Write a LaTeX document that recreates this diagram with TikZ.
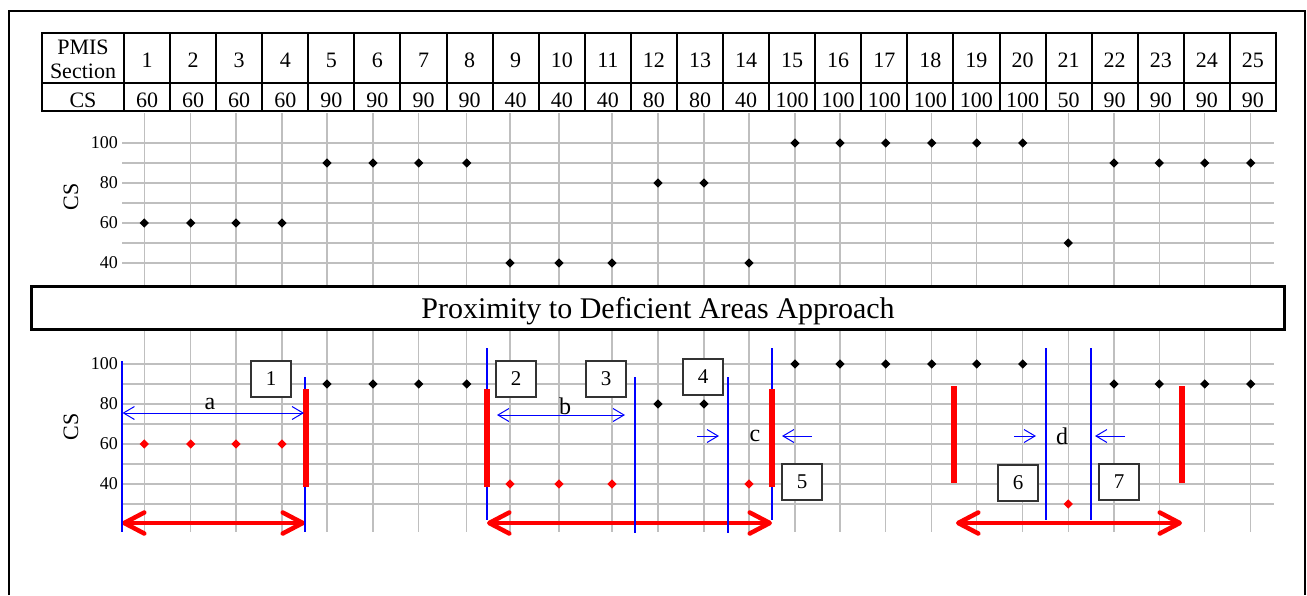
\documentclass[tikz,border=0pt]{standalone}
\usepackage{fontspec}
\setmainfont{Liberation Serif}
\usetikzlibrary{arrows.meta,shapes.geometric}
\definecolor{gridgray}{RGB}{191,191,191}
\definecolor{pblue}{RGB}{0,0,255}
\definecolor{pred}{RGB}{255,0,0}
\begin{document}
\begin{tikzpicture}[x=1pt,y=-1pt,
  gridl/.style={draw=gridgray, line width=1.5pt},
  tabline/.style={draw=black, line width=2pt},
  celltext/.style={font=\fontsize{22}{23}\selectfont, inner sep=0pt, anchor=base},
  ticklab/.style={font=\fontsize{18}{19}\selectfont, anchor=east, inner sep=0pt},
  axlab/.style={font=\fontsize{22}{23}\selectfont, rotate=90, inner sep=0pt},
  dia/.style={diamond, inner sep=0pt, minimum size=9.5pt},
  numbox/.style={draw=black!80, line width=1.2pt, fill=white, minimum width=40pt, minimum height=36pt, inner sep=0pt, font=\fontsize{21}{22}\selectfont},
  blueline/.style={draw=pblue, line width=1.8pt},
  redbar/.style={draw=pred, line width=5.5pt},
  redarrow/.style={draw=pred, line width=4.5pt, {Straight Barb[length=20pt,width=21pt,round]}-{Straight Barb[length=20pt,width=21pt,round]}},
  bluearrow/.style={draw=pblue, line width=1pt},
  bluetip/.style={-{Straight Barb[length=11pt,width=13pt]}},
  letter/.style={font=\fontsize{24}{25}\selectfont, inner sep=0pt}
]
\useasboundingbox (0,0) rectangle (1307,595);
\fill[white] (0,0) rectangle (1307,595);
% outer frame
\draw[line width=2pt] (9,595) -- (9,11) -- (1305,11) -- (1305,595);

% ---------- table ----------
\draw[tabline] (42,33) rectangle (1276,111);
\draw[tabline] (42,83) -- (1276,83);
\foreach \k in {0,...,24} \draw[tabline] ({124+46.08*\k},33) -- ({124+46.08*\k},111);
\node[celltext] (hPMIS) at (83,54) {PMIS};
\node[celltext] (hSec) at (83,78) {Section};
\node[celltext] (hCS) at (83,107) {CS};
\foreach \v [count=\i] in {60,60,60,60,90,90,90,90,40,40,40,80,80,40,100,100,100,100,100,100,50,90,90,90,90} {
  \node[celltext] (sec\i) at ({124+46.08*(\i-0.5)},67) {\i};
  \node[celltext] (val\i) at ({124+46.08*(\i-0.5)},107) {\v};
}

% ---------- grids ----------
\foreach \gx in {144.3,190.7,236,282,327,373,418.7,466.7,510,559,612,658,704,749,795,840,885.7,931.7,976.7,1022.7,1068.3,1114,1159.3,1204.7,1250.7} {
  \draw[gridl] (\gx,113) -- (\gx,285);
  \draw[gridl] (\gx,331) -- (\gx,532);
}
\foreach \v in {40,50,...,100} \draw[gridl] (122,{343-2*\v}) -- (1274,{343-2*\v});
\foreach \v in {30,40,...,100} \draw[gridl] (122,{564-2*\v}) -- (1274,{564-2*\v});

% tick labels
\foreach \v in {40,60,80,100} {
  \node[ticklab] (tl\v) at (118,{343-2*\v}) {\v};
  \node[ticklab] (bl\v) at (118,{564-2*\v}) {\v};
}
\node[axlab] (csTop) at (71,197) {CS};
\node[axlab] (csBot) at (71,427) {CS};

% top data
\foreach \gx/\v [count=\i] in {144.3/60,190.7/60,236/60,282/60,327/90,373/90,418.7/90,466.7/90,510/40,559/40,612/40,658/80,704/80,749/40,795/100,840/100,885.7/100,931.7/100,976.7/100,1022.7/100,1068.3/50,1114/90,1159.3/90,1204.7/90,1250.7/90}
  \node[dia, fill=black] (t\i) at (\gx,{343-2*\v}) {};

% ---------- banner ----------
\node[draw, line width=3pt, fill=white, minimum width=1253pt, minimum height=43.5pt, inner sep=0pt] (banner) at (658.3,307.8) {};
\node[font=\fontsize{30}{31}\selectfont, inner sep=0pt, anchor=base] (bannertext) at (658,318) {Proximity to Deficient Areas Approach};

% ---------- bottom chart ----------
\coordinate (ra1) at (122,523); \coordinate (rb1) at (305,523);
\coordinate (ra2) at (487,523); \coordinate (rb2) at (772,523);
\coordinate (ra3) at (956,523); \coordinate (rb3) at (1182,523);
\draw[redarrow] (ra1) -- (rb1);
\draw[redarrow] (ra2) -- (rb2);
\draw[redarrow] (ra3) -- (rb3);

% blue vertical lines
\foreach \x/\ya/\yb [count=\i] in {122/361/532, 305/377/532, 487/348/520, 635/377/533, 728/377/533, 772/348/520, 1046/348/520, 1091/348/520} {
  \coordinate (bt\i) at (\x,\ya); \coordinate (bb\i) at (\x,\yb);
  \draw[blueline] (bt\i) -- (bb\i);
}
% red bars
\foreach \x/\ya/\yb [count=\i] in {306/389/487, 487/389/487, 772/389/487, 954/386/483, 1182/386/483} {
  \coordinate (rt\i) at (\x,\ya); \coordinate (rbb\i) at (\x,\yb);
  \draw[redbar] (rt\i) -- (rbb\i);
}

% bottom data
\foreach \gx/\v/\c [count=\i] in {144.3/60/pred,190.7/60/pred,236/60/pred,282/60/pred,327/90/black,373/90/black,418.7/90/black,466.7/90/black,510/40/pred,559/40/pred,612/40/pred,658/80/black,704/80/black,749/40/pred,795/100/black,840/100/black,885.7/100/black,931.7/100/black,976.7/100/black,1022.7/100/black,1068.3/30/pred,1114/90/black,1159.3/90/black,1204.7/90/black,1250.7/90/black}
  \node[dia, fill=\c] (b\i) at (\gx,{564-2*\v}) {};

% blue dimension arrows
\coordinate (aL) at (122.5,413); \coordinate (aR) at (304,413);
\draw[bluearrow, {Straight Barb[length=11pt,width=13pt]}-{Straight Barb[length=11pt,width=13pt]}] (aL) -- (aR);
\node[letter] (la) at (210,404) {a};
\coordinate (bL) at (497,415); \coordinate (bR) at (625,415);
\draw[bluearrow, {Straight Barb[length=11pt,width=13pt]}-{Straight Barb[length=11pt,width=13pt]}] (bL) -- (bR);
\node[letter] (lb) at (565,406) {b};
\coordinate (c1a) at (697,436); \coordinate (c1b) at (719,436);
\coordinate (c2a) at (812,436); \coordinate (c2b) at (782,436);
\draw[bluearrow, bluetip] (c1a) -- (c1b);
\draw[bluearrow, bluetip] (c2a) -- (c2b);
\node[letter] (lc) at (755,436) {c};
\coordinate (d1a) at (1014,436); \coordinate (d1b) at (1036,436);
\coordinate (d2a) at (1125,436); \coordinate (d2b) at (1095,436);
\draw[bluearrow, bluetip] (d1a) -- (d1b);
\draw[bluearrow, bluetip] (d2a) -- (d2b);
\node[letter] (ld) at (1062,436) {d};

% numbered boxes
\node[numbox] (n1) at (271,379) {1};
\node[numbox] (n2) at (516,379) {2};
\node[numbox] (n3) at (606,379) {3};
\node[numbox] (n4) at (703,377) {4};
\node[numbox] (n5) at (802,482) {5};
\node[numbox] (n6) at (1018,483) {6};
\node[numbox] (n7) at (1119,482) {7};
\end{tikzpicture}
\end{document}
